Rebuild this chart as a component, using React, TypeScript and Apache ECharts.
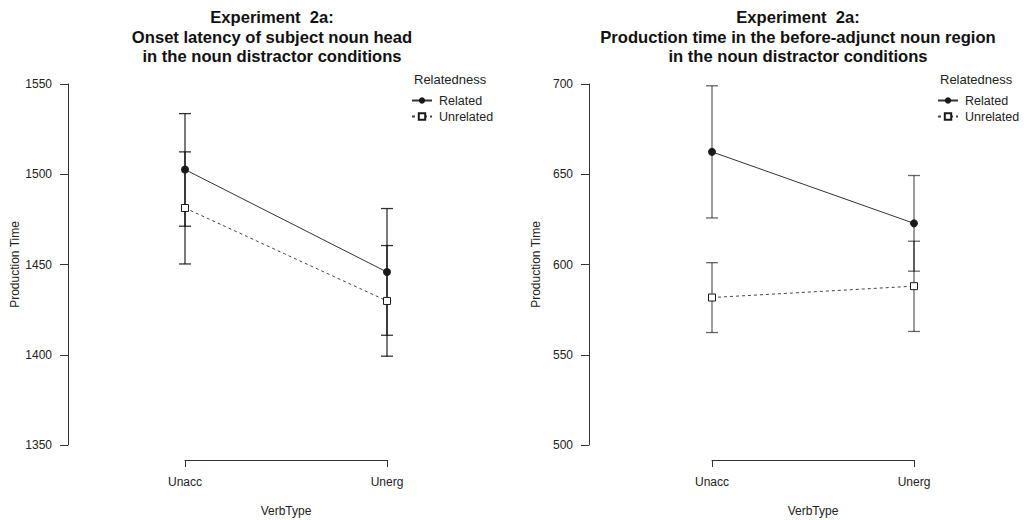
import React, { useEffect, useRef } from "react";
import * as echarts from "echarts";

const verbTypes = ["Unacc", "Unerg"];
const groups = ["Related", "Unrelated"];

// Left panel: onset latency of subject noun head
const leftRelated = [1502.6, 1445.8];
const leftRelatedLow = [1450.3, 1399.2];
const leftRelatedHigh = [1533.6, 1481.0];
const leftUnrelated = [1481.3, 1429.8];
const leftUnrelatedLow = [1471.2, 1410.8];
const leftUnrelatedHigh = [1512.4, 1460.5];
const leftTicks = { min: 1350, max: 1550, interval: 50 };

// Right panel: production time in the before-adjunct noun region
const rightRelated = [662.4, 622.8];
const rightRelatedLow = [625.8, 596.3];
const rightRelatedHigh = [699.0, 649.3];
const rightUnrelated = [581.7, 588.0];
const rightUnrelatedLow = [562.3, 562.9];
const rightUnrelatedHigh = [601.0, 612.9];
const rightTicks = { min: 500, max: 700, interval: 50 };

const titleLeft = "Experiment  2a:\nOnset latency of subject noun head\nin the noun distractor conditions";
const titleRight = "Experiment  2a:\nProduction time in the before-adjunct noun region\nin the noun distractor conditions";
const yName = "Production Time";
const xName = "VerbType";
const legendTitle = "Relatedness";

const FONT = "'Liberation Sans', Arial, Helvetica, sans-serif";
const INK = "#1a1a1a";

function errData(lo: number[], hi: number[]) {
  return lo.map((l, i) => [i, l, hi[i]]);
}

function errSeries(name: string, idx: number, lo: number[], hi: number[], color: string) {
  return {
    name,
    type: "custom",
    xAxisIndex: idx,
    yAxisIndex: idx,
    clip: false,
    z: 1,
    silent: true,
    data: errData(lo, hi),
    renderItem: (params: any, api: any) => {
      const x = api.value(0);
      const pLo = api.coord([x, api.value(1)]);
      const pHi = api.coord([x, api.value(2)]);
      const w = 6;
      const style = { stroke: color, lineWidth: 1.3 };
      return {
        type: "group",
        children: [
          { type: "line", shape: { x1: pLo[0], y1: pLo[1], x2: pHi[0], y2: pHi[1] }, style },
          { type: "line", shape: { x1: pLo[0] - w, y1: pLo[1], x2: pLo[0] + w, y2: pLo[1] }, style },
          { type: "line", shape: { x1: pHi[0] - w, y1: pHi[1], x2: pHi[0] + w, y2: pHi[1] }, style },
        ],
      };
    },
  };
}

function lineSeries(name: string, idx: number, values: number[]) {
  const related = name === groups[0];
  return {
    name,
    type: "line",
    xAxisIndex: idx,
    yAxisIndex: idx,
    data: values,
    z: 3,
    symbol: related ? "circle" : "rect",
    symbolSize: related ? 8 : 7,
    showSymbol: true,
    itemStyle: related
      ? { color: INK, borderColor: INK, borderWidth: 0 }
      : { color: "#ffffff", borderColor: INK, borderWidth: 1 },
    lineStyle: related
      ? { color: "#333", width: 1, type: "solid" }
      : { color: "#444", width: 1, type: [3, 3] },
  };
}

function yAxis(idx: number, t: { min: number; max: number; interval: number }, offset: number) {
  return {
    type: "value",
    gridIndex: idx,
    min: t.min,
    max: t.max,
    interval: t.interval,
    offset,
    name: yName,
    nameLocation: "middle",
    nameGap: 47,
    nameTextStyle: { fontFamily: FONT, fontSize: 12, color: "#222" },
    axisLine: { show: true, lineStyle: { color: "#333", width: 1 } },
    axisTick: { show: true, length: 8, lineStyle: { color: "#333", width: 1 } },
    axisLabel: { margin: 16, fontFamily: FONT, fontSize: 12, color: "#222", formatter: (v: number) => String(v) },
    splitLine: { show: false },
  };
}

function xAxis(idx: number) {
  return {
    type: "category",
    gridIndex: idx,
    data: verbTypes,
    boundaryGap: false,
    offset: 15,
    name: xName,
    nameLocation: "middle",
    nameGap: 45,
    nameTextStyle: { fontFamily: FONT, fontSize: 12, color: "#222" },
    axisLine: { show: true, lineStyle: { color: "#333", width: 1 } },
    axisTick: { show: true, length: 7, alignWithLabel: true, lineStyle: { color: "#333", width: 1 } },
    axisLabel: { margin: 16, fontFamily: FONT, fontSize: 12, color: "#222" },
    splitLine: { show: false },
  };
}

function legend(left: number) {
  return {
    data: groups,
    orient: "vertical",
    left,
    top: 89,
    itemWidth: 20,
    itemHeight: 8,
    itemGap: 3,
    textStyle: { fontFamily: FONT, fontSize: 12.5, color: "#222", padding: [0, 0, 0, 2] },
    selectedMode: false,
  };
}

export default function App() {
  const ref = useRef<HTMLDivElement>(null);
  useEffect(() => {
    if (!ref.current) return;
    document.body.style.margin = "0";
    const chart = echarts.init(ref.current, undefined, { renderer: "svg" });
    const titleStyle = {
      fontFamily: FONT,
      fontSize: 16.6,
      fontWeight: "bold",
      fill: "#111",
      textAlign: "center",
      lineHeight: 19.5,
    };
    const legendTitleStyle = { text: legendTitle, fontFamily: FONT, fontSize: 13, fill: "#222" };
    chart.setOption({
      animation: false,
      backgroundColor: "#ffffff",
      grid: [
        { left: 185, top: 84, width: 202, height: 361, outerBoundsMode: "none" },
        { left: 712, top: 84, width: 202, height: 361, outerBoundsMode: "none" },
      ],
      xAxis: [xAxis(0), xAxis(1)],
      yAxis: [yAxis(0, leftTicks, 117), yAxis(1, rightTicks, 123)],
      legend: [legend(406), legend(932)],
      graphic: [
        { type: "text", x: 272, y: 8, style: { ...titleStyle, text: titleLeft } },
        { type: "text", x: 798, y: 8, style: { ...titleStyle, text: titleRight } },
        { type: "text", x: 414, y: 73, style: legendTitleStyle },
        { type: "text", x: 940, y: 73, style: legendTitleStyle },
      ],
      series: [
        errSeries("Related SE", 0, leftRelatedLow, leftRelatedHigh, "rgba(0,0,0,0.8)"),
        errSeries("Unrelated SE", 0, leftUnrelatedLow, leftUnrelatedHigh, "rgba(0,0,0,0.8)"),
        lineSeries(groups[0], 0, leftRelated),
        lineSeries(groups[1], 0, leftUnrelated),
        errSeries("Related SE", 1, rightRelatedLow, rightRelatedHigh, "rgba(0,0,0,0.6)"),
        errSeries("Unrelated SE", 1, rightUnrelatedLow, rightUnrelatedHigh, "rgba(0,0,0,0.6)"),
        lineSeries(groups[0], 1, rightRelated),
        lineSeries(groups[1], 1, rightUnrelated),
      ],
    });
    return () => chart.dispose();
  }, []);
  return <div ref={ref} style={{ width: 1029, height: 520 }} />;
}
